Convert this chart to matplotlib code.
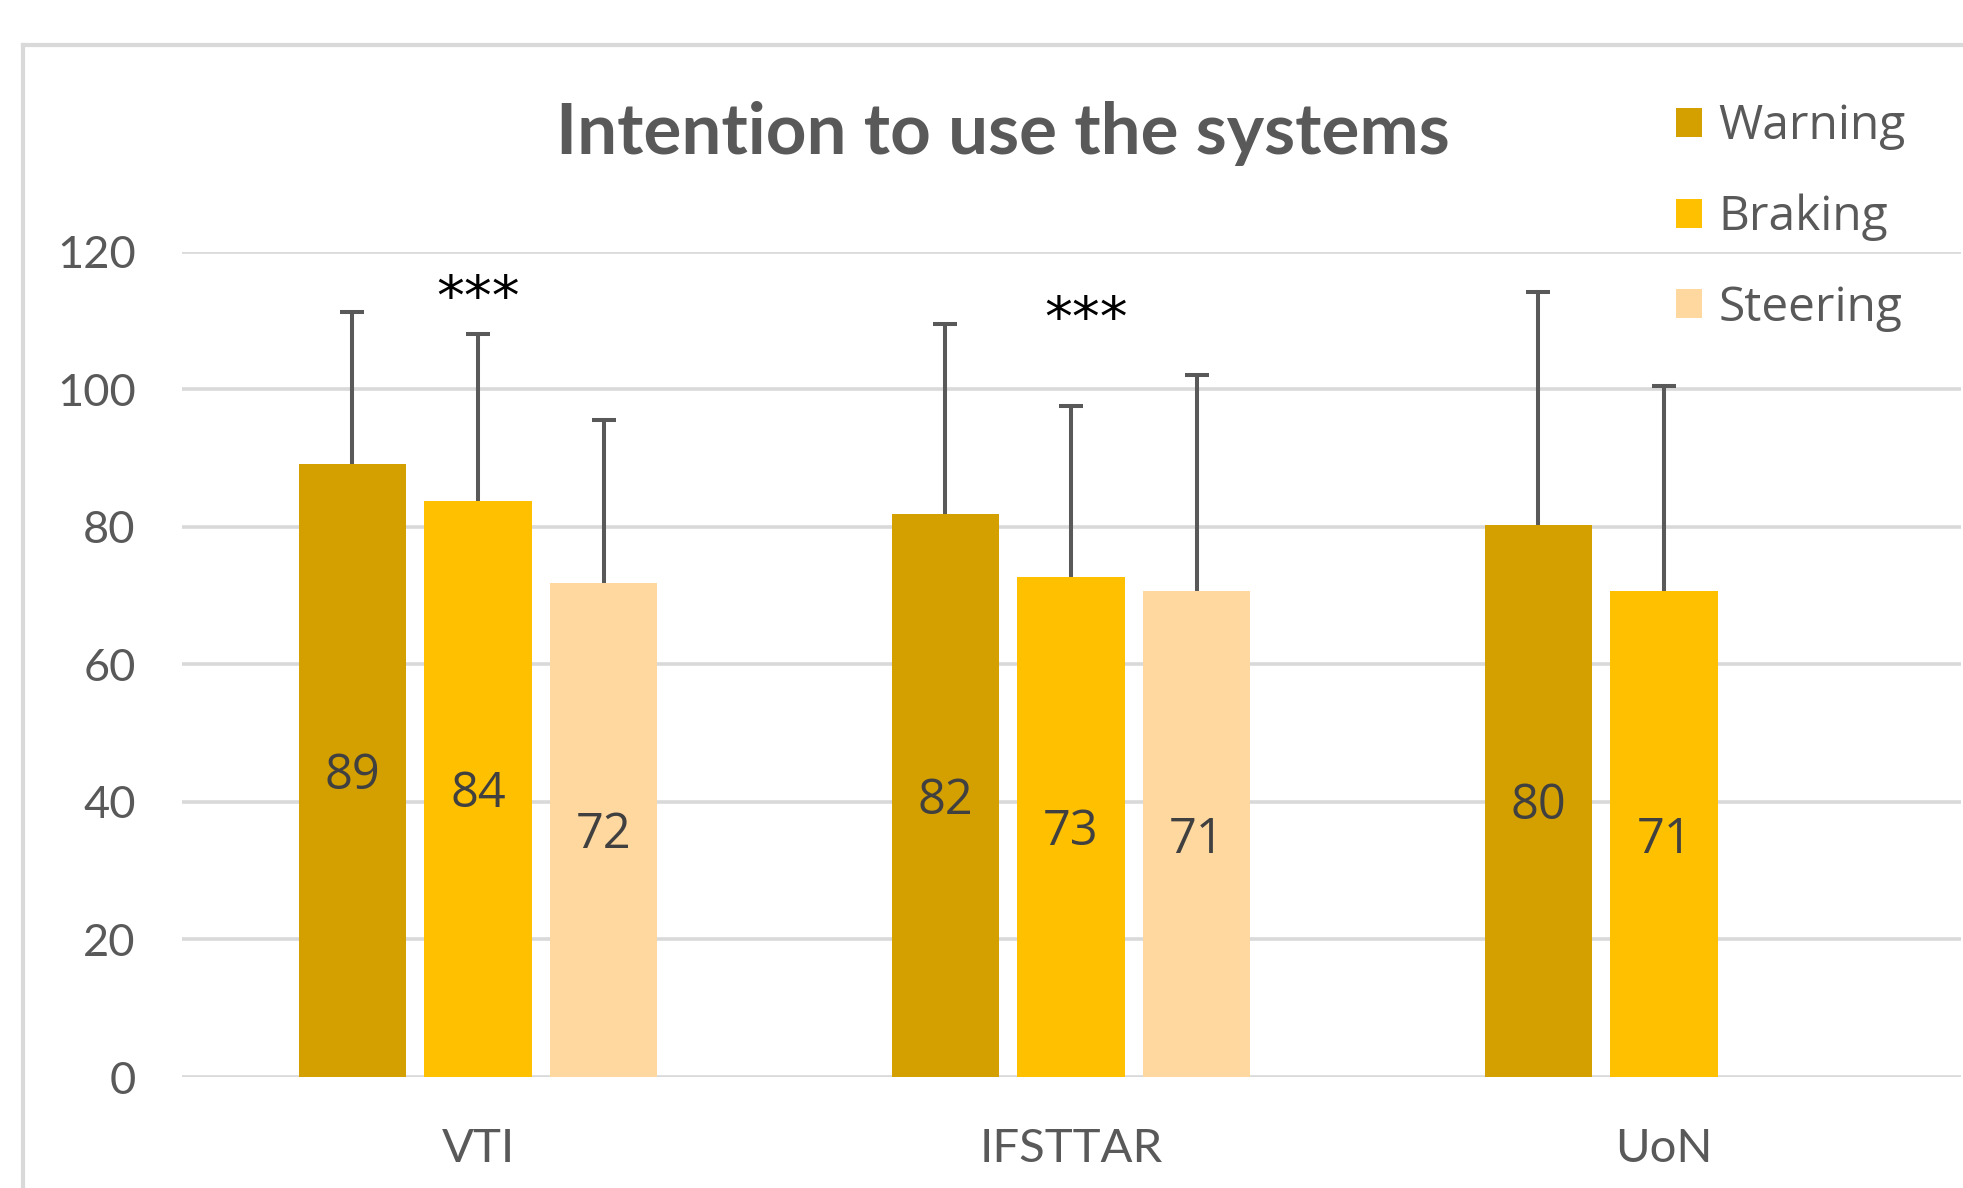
import numpy as np
import matplotlib.pyplot as plt
from matplotlib.lines import Line2D

# --- data ---
sites = ['VTI', 'IFSTTAR', 'UoN']
systems = ['Warning', 'Braking', 'Steering']
colors = ['#D4A000', '#FFC000', '#FFD89F']

warning  = [89.1, 81.8, 80.3]
braking  = [83.7, 72.7, 70.6]
steering = [71.8, 70.6, np.nan]   # no steering system at UoN

warning_sd  = [22.2, 27.7, 33.9]
braking_sd  = [24.3, 24.9, 29.9]
steering_sd = [23.8, 31.4, np.nan]

# significance markers (x in category units, y in data units)
stars_x = [0.0, 1.025]
stars_y = [113.0, 109.9]

values = [warning, braking, steering]
sds = [warning_sd, braking_sd, steering_sd]

GRAY = '#595959'
W, H = 1963, 1188
fig = plt.figure(figsize=(W / 100, H / 100), dpi=100)
ax = fig.add_axes([181.5 / W, 1 - 1077 / H, (1960.6 - 181.5) / W, (1077 - 251.7) / H])

x = np.arange(len(sites))
step = 0.212
width = 0.181

for i, (name, vals, sd, col) in enumerate(zip(systems, values, sds, colors)):
    vals = np.array(vals, dtype=float)
    sd = np.array(sd, dtype=float)
    ok = ~np.isnan(vals)
    xs = x[ok] + (i - 1) * step
    ax.bar(xs, vals[ok], width, color=col, label=name, zorder=2)
    eb = ax.errorbar(xs, vals[ok], yerr=[np.zeros(ok.sum()), sd[ok]], fmt='none',
                     ecolor=GRAY, elinewidth=2.9, capsize=8.5, capthick=2.9, zorder=3)
    eb[1][0].set_visible(False)   # only the upper cap, like Excel's "plus" error bars
    for xx, v in zip(xs, vals[ok]):
        ax.annotate(f'{v:.0f}', (xx, v / 2), xytext=(0, -4), textcoords='offset points',
                    ha='center', va='center', fontsize=35, color='#404040',
                    family='Open Sans', zorder=4)

for sx, sy in zip(stars_x, stars_y):
    ax.text(sx, sy, '***', ha='center', va='center',
            fontsize=40, color='black', family='DejaVu Sans')

ax.set_xlim(-0.5, 2.5)
ax.set_ylim(0, 120)
ax.set_yticks(np.arange(0, 121, 20))
ax.set_xticks(x)
ax.set_xticklabels(sites)
ax.yaxis.grid(True, color='#D9D9D9', linewidth=2.6, zorder=0)
ax.set_axisbelow(True)
for sp in ax.spines.values():
    sp.set_visible(False)
ax.tick_params(length=0, colors=GRAY)
ax.tick_params(axis='y', pad=33, labelsize=32.5)
ax.tick_params(axis='x', pad=37, labelsize=34)
for lab in ax.get_xticklabels() + ax.get_yticklabels():
    lab.set_family('Lato')

fig.text(1003 / W, 1 - 134 / H, 'Intention to use the systems', ha='center', va='center',
         fontsize=51, fontweight='bold', color=GRAY, family='Lato')

leg = fig.legend(loc='upper left', bbox_to_anchor=(1652 / W, 1 - 79 / H), frameon=False,
                 borderpad=0, handlelength=0.55, handleheight=0.55, handletextpad=0.33,
                 labelspacing=0.9, prop={'family': 'Open Sans', 'size': 34.5})
for t in leg.get_texts():
    t.set_color(GRAY)

# outer chart frame (cropped on the right and bottom)
fig.add_artist(Line2D([23 / W, 23 / W], [0, 1 - 45 / H], color='#D9D9D9', linewidth=3))
fig.add_artist(Line2D([23 / W, 1], [1 - 45 / H, 1 - 45 / H], color='#D9D9D9', linewidth=3))

fig.savefig('out.png', dpi=100)
